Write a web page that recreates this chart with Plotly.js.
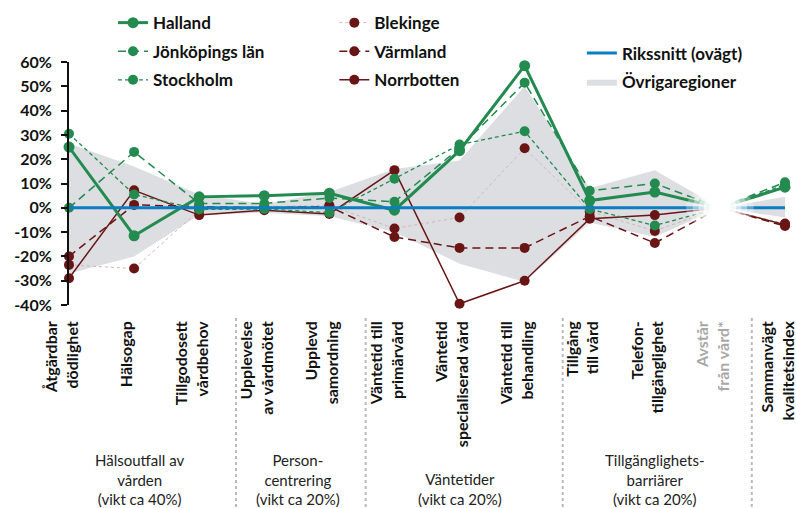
<!DOCTYPE html>
<html><head><meta charset="utf-8">
<script src="https://cdn.plot.ly/plotly-3.0.1.min.js"></script>
<style>html,body{margin:0;padding:0;background:#fff}#chart{width:796px;height:508px}</style>
</head><body><div id="chart"></div>
<script>
// ---------- data ----------
const categories = [
  'Åtgärdbar dödlighet','Hälsogap','Tillgodosett vårdbehov','Upplevelse av vårdmötet',
  'Upplevd samordning','Väntetid till primärvård','Väntetid specialiserad vård',
  'Väntetid till behandling','Tillgång till vård','Telefontillgänglighet',
  'Avstår från vård*','Sammanvägt kvalitetsindex'
];
const tickLabels = [
  'Åtgärdbar<br>dödlighet','Hälsogap','Tillgodosett<br>vårdbehov','Upplevelse<br>av vårdmötet',
  'Upplevd<br>samordning','Väntetid till<br>primärvård','Väntetid<br>specialiserad vård',
  'Väntetid till<br>behandling','Tillgång<br>till vård','Telefon-<br>tillgänglighet',
  '<span style="color:#a8a8a8">Avstår</span><br><span style="color:#a8a8a8">från vård*</span>',
  'Sammanvägt<br>kvalitetsindex'
];
const halland     = [25, -11.5, 4.5, 5, 6, -1, 23.5, 58.5, 3, 6.5, 0, 8.5];
const jonkoping   = [0, 23, 1.8, 1.8, 4, 2.5, 24.5, 51.5, 7, 10, 0, 10.5];
const stockholm   = [30.5, 5.5, -0.7, -0.5, -2, 12, 26, 31.5, -0.5, -7.3, 0, 9.5];
const blekinge    = [-23.5, -25, -1, 0.5, 1, -8.5, -4, 24.5, -1.5, -9.5, 0, -6.5];
const varmland    = [-20, 1.2, 0.5, 0, 0.5, -12, -16.5, -16.5, -3.5, -14.5, 0, -7.5];
const norrbotten  = [-29, 7.2, -3, -1, -2.5, 15.5, -39.5, -30, -4.5, -3, 0, -7];
const rikssnitt   = [0, 0, 0, 0, 0, 0, 0, 0, 0, 0, 0, 0];
const ovrigaUpper = [26.5, 17, 5.5, 1.5, 6.5, 16, 19.5, 50, 8, 15.5, 0, 4.5];
const ovrigaLower = [-27, -20, -3, -2, -3.5, -10, -23, -30.5, -6, -12, 0, -4];
const yTickVals   = [-40, -30, -20, -10, 0, 10, 20, 30, 40, 50, 60];
const yTickText   = ['-40%','-30%','-20%','-10%','0%','10%','20%','30%','40%','50%','60%'];
const groupLabels = [
  'Hälsoutfall av<br>vården<br>(vikt ca 40%)',
  'Person-<br>centrering<br>(vikt ca 20%)',
  'Väntetider<br>(vikt ca 20%)',
  'Tillgänglighets-<br>barriärer<br>(vikt ca 20%)'
];

// ---------- styles ----------
const GREEN = '#238a50', RED = '#6a1515', PINK = '#d6b4b4', BLUE = '#0b7dc3', GRAY = '#dcdee1';
const FONT = 'Lato, "Open Sans", sans-serif';

function series(y, name, legend, color, lineColor, width, dash, msize, rank) {
  return {
    type: 'scatter', mode: 'lines+markers', x: categories, y: y, name: name,
    legend: legend, legendgroup: name, legendrank: rank, cliponaxis: false,
    line: {color: lineColor || color, width: width, dash: dash},
    marker: {color: color, size: msize}
  };
}

const data = [
  {type:'scatter', mode:'lines', x: categories, y: ovrigaLower, line:{width:0, color:GRAY},
   showlegend:false, hoverinfo:'skip', legend:'legend3', legendgroup:'ovr'},
  {type:'scatter', mode:'lines', x: categories, y: ovrigaUpper, fill:'tonexty', fillcolor: GRAY,
   line:{width:0, color:GRAY}, name:'Övrigaregioner', legend:'legend3', legendgroup:'ovr', legendrank: 2},
  series(blekinge, 'Blekinge', 'legend2', RED, PINK, 1, 'dot', 10, 1),
  series(varmland, 'Värmland', 'legend2', RED, RED, 1.5, '8px,5px', 10, 2),
  series(norrbotten, 'Norrbotten', 'legend2', RED, RED, 1.5, 'solid', 10, 3),
  series(stockholm, 'Stockholm', 'legend', GREEN, GREEN, 1.3, '4px,3px', 10, 3),
  series(jonkoping, 'Jönköpings län', 'legend', GREEN, GREEN, 1.5, '8px,5px', 10, 2),
  series(halland, 'Halland', 'legend', GREEN, GREEN, 3, 'solid', 11, 1),
  {type:'scatter', mode:'lines', x: categories, y: rikssnitt, name:'Rikssnitt (ovägt)',
   line:{color: BLUE, width: 3}, legend:'legend3', legendgroup:'riks', legendrank: 1, cliponaxis:false}
];

const legendBase = {
  xref:'container', yref:'container', xanchor:'left', yanchor:'top',
  bgcolor:'rgba(0,0,0,0)', font:{family: FONT, size: 17, color:'#111', weight: 700},
  tracegroupgap: 3.5, traceorder:'grouped'
};

const shapes = [];
// dotted separators between groups (x in category-index units)
[-0.533, 2.566, 4.558, 7.585, 10.49].forEach(x => shapes.push({
  type:'line', xref:'x', yref:'paper', x0:x, x1:x, y0:-0.053, y1:-0.84,
  line:{color:'#b9b9b9', width:2, dash:'dot'}
}));
// white fade around "Avstår från vård*"
[[0.52,9,0.3],[0.42,8,0.4],[0.33,7,0.5],[0.25,6,0.7],[0.16,5,0.95]].forEach(([w,h,op]) => shapes.push({
  type:'circle', xref:'x', yref:'y', x0:10-w, x1:10+w, y0:-h, y1:h,
  fillcolor:'#ffffff', opacity:op, line:{width:0}, layer:'above'
}));

const groupX = [1.09, 3.52, 6.0, 9.0];
const annotations = groupLabels.map((t,i) => ({
  text: t, xref:'x', yref:'paper', x: groupX[i], y: -0.843, xanchor:'center', yanchor:'bottom',
  showarrow:false, align:'center', font:{family: FONT, size: 15, color:'#222'}
}));

const layout = {
  width: 796, height: 508,
  margin: {l: 69, r: 11, t: 62, b: 203, autoexpand: false},
  paper_bgcolor:'#fff', plot_bgcolor:'#fff',
  font: {family: FONT, color:'#111'},
  showlegend: true,
  legend: Object.assign({}, legendBase, {x: 0.142, y: 0.99}),
  legend2: Object.assign({}, legendBase, {x: 0.42, y: 0.99}),
  legend3: Object.assign({}, legendBase, {x: 0.731, y: 0.93}),
  xaxis: {
    type:'category', range:[0, 11], showgrid:false, zeroline:false, showline:false,
    ticks:'', tickangle:-90, tickvals: categories, ticktext: tickLabels, automargin:false,
    tickfont:{family: FONT, size: 16, color:'#111', weight: 700}, ticklabelstandoff: 12,
    ticklabelshift: -7
  },
  yaxis: {
    range:[-40, 60], showgrid:false, zeroline:false, showline:true, linecolor:'#111', linewidth:2,
    ticks:'outside', ticklen:6, tickwidth:2, tickcolor:'#111', automargin:false,
    tickvals: yTickVals, ticktext: yTickText,
    tickfont:{family: FONT, size: 16, color:'#111', weight: 700}, ticklabelstandoff: 6
  },
  shapes: shapes,
  annotations: annotations
};

Plotly.newPlot('chart', data, layout, {displayModeBar:false, staticPlot:true});
</script>
</body></html>
